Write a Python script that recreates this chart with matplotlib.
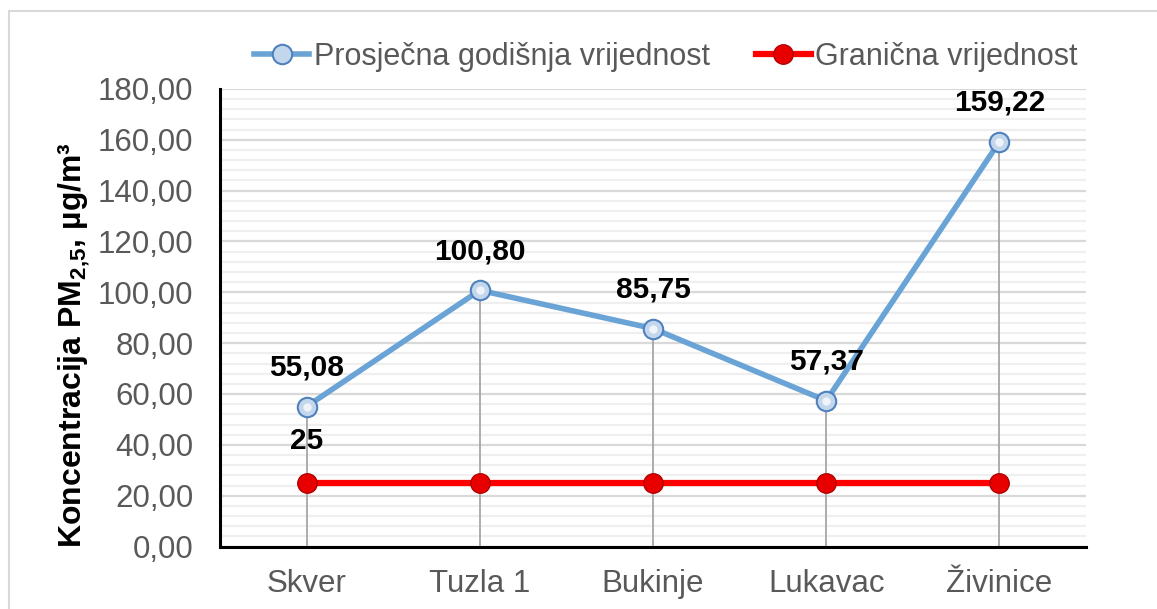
import matplotlib
matplotlib.use("Agg")
import matplotlib.pyplot as plt
from matplotlib.ticker import MultipleLocator, FuncFormatter
from matplotlib.lines import Line2D
from matplotlib.patches import Rectangle

plt.rcParams['font.family'] = ['Liberation Sans', 'DejaVu Sans']
plt.rcParams['mathtext.fontset'] = 'custom'
plt.rcParams['mathtext.rm'] = 'Liberation Sans'
plt.rcParams['mathtext.bf'] = 'Liberation Sans:bold'

categories = ["Skver", "Tuzla 1", "Bukinje", "Lukavac", "Živinice"]
avg_values = [55.08, 100.80, 85.75, 57.37, 159.22]
limit_values = [25, 25, 25, 25, 25]
avg_labels = ["55,08", "100,80", "85,75", "57,37", "159,22"]
limit_labels = ["25", None, None, None, None]
series_names = ["Prosječna godišnja vrijednost", "Granična vrijednost"]

W, H = 1157, 609
fig = plt.figure(figsize=(W / 100, H / 100), dpi=100)
fig.patches.append(Rectangle((9 / W, -0.1), 1.2, 1.1 - 11 / H, transform=fig.transFigure,
                             fill=False, edgecolor='#d9d9d9', linewidth=1.5, zorder=0))

ax = fig.add_axes([220 / W, 1 - 546.5 / H, (1086 - 220) / W, (546.5 - 89) / H])
x = list(range(len(categories)))

ax.set_xlim(-0.5, len(categories) - 0.5)
ax.set_ylim(0, 180)
ax.yaxis.set_major_locator(MultipleLocator(20))
ax.yaxis.set_minor_locator(MultipleLocator(4))
ax.yaxis.set_major_formatter(FuncFormatter(lambda v, p: f"{v:.2f}".replace('.', ',')))
ax.grid(which='major', axis='y', color='#d9d9d9', linewidth=1.6, zorder=0)
ax.grid(which='minor', axis='y', color='#efefef', linewidth=1.6, zorder=0)
ax.set_axisbelow(True)

for s in ['top', 'right']:
    ax.spines[s].set_visible(False)
for s in ['left', 'bottom']:
    ax.spines[s].set_color('black')
    ax.spines[s].set_linewidth(2.2)

ax.tick_params(axis='both', which='both', length=0)
ax.tick_params(axis='y', labelsize=22.5, labelcolor='#595959', pad=19)
ax.tick_params(axis='x', labelsize=22.5, labelcolor='#595959', pad=16)
ax.set_xticks(x)
ax.set_xticklabels(categories)

# drop lines
ax.vlines(x, 0, avg_values, color='#a6a6a6', linewidth=1.3, zorder=1)

blue = '#6aa3d6'
red = '#ff0000'
ax.plot(x, avg_values, color=blue, linewidth=4, marker='o', markersize=14,
        markerfacecolor='#c3d7ec', markeredgecolor='#4f81bd', markeredgewidth=1.5,
        zorder=3, solid_capstyle='round')
ax.plot(x, avg_values, linestyle='none', marker='o', markersize=6,
        markerfacecolor='#eef4fa', markeredgewidth=0, zorder=3.5)
ax.plot(x, limit_values, color=red, linewidth=4.5, marker='o', markersize=14,
        markerfacecolor='#e80000', markeredgecolor='#b00000', markeredgewidth=1.0,
        zorder=3)

for xi, v, lab in zip(x, avg_values, avg_labels):
    ax.annotate(lab, (xi, v), xytext=(0, 28), textcoords='offset points',
                ha='center', va='center', fontsize=21.5, fontweight='bold', color='black', zorder=4)
for xi, v, lab in zip(x, limit_values, limit_labels):
    if lab:
        ax.annotate(lab, (xi, v), xytext=(0, 30), textcoords='offset points',
                    ha='center', va='center', fontsize=21.5, fontweight='bold', color='black', zorder=4)

ax.set_ylabel("Koncentracija PM$_{\\mathbf{2{,}5}}$, µg/m³", fontsize=23, fontweight='bold',
              color='black')
ax.yaxis.set_label_coords(-128 / (1086 - 220), 0.5 - 27 / 457.5)

handles = [
    Line2D([], [], color=blue, linewidth=4, marker='o', markersize=14,
           markerfacecolor='#c3d7ec', markeredgecolor='#4f81bd', markeredgewidth=1.5),
    Line2D([], [], color=red, linewidth=4.5, marker='o', markersize=14,
           markerfacecolor='#e80000', markeredgecolor='#b00000'),
]
leg = fig.legend(handles, series_names, loc='center', bbox_to_anchor=(666 / W, 1 - 57 / H),
                 ncol=2, frameon=False, fontsize=22, handlelength=1.8, handletextpad=0.15,
                 columnspacing=1.5, labelcolor='#595959')

fig.savefig("out.png", dpi=100)
